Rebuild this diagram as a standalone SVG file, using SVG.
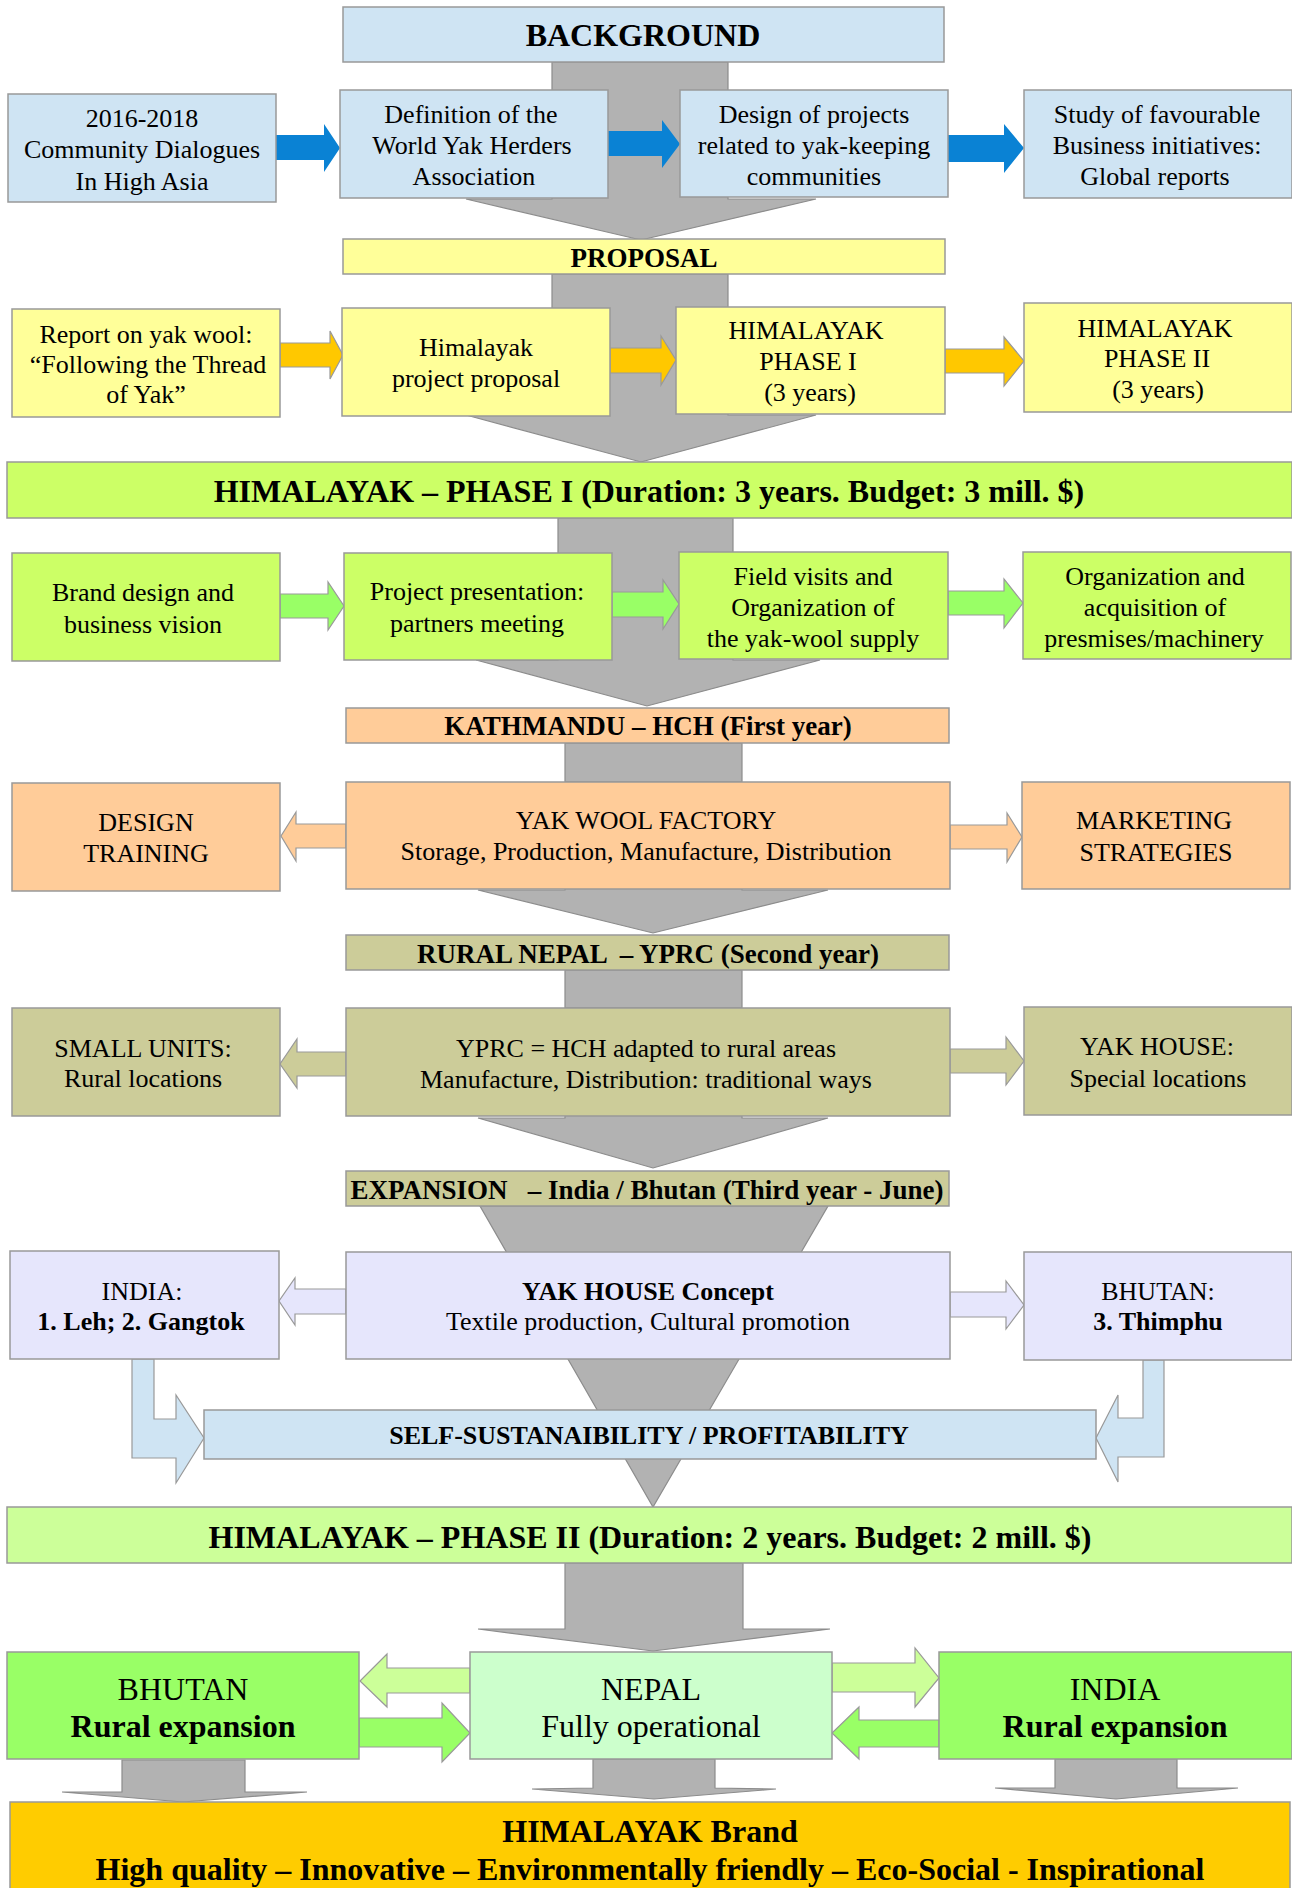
<svg xmlns="http://www.w3.org/2000/svg" width="1292" height="1888" viewBox="0 0 1292 1888">
<style>
text{font-family:"Liberation Serif","Times New Roman",serif;fill:#000;text-anchor:middle}
.t{font-size:26px}
.b{font-weight:bold}
.h{font-size:27px;font-weight:bold;white-space:pre}
.l{font-size:32px}
.box{stroke:#999;stroke-width:1.5}
.arr{stroke:#999;stroke-width:1.2}
.gray{fill:#b2b2b2;stroke:#8c8c8c;stroke-width:1.2}
.blue{fill:#cfe4f3}
.yel{fill:#ffff99}
.lime{fill:#ccff66}
.peach{fill:#ffcc99}
.khaki{fill:#cccc99}
.lav{fill:#e6e6fc}
.p2{fill:#ccff99}
.grn{fill:#99ff66}
.mint{fill:#ccffcc}
.gold{fill:#ffcc00}
</style>
<g id="connectors">
<polygon class="gray" points="552,62 728,62 728,199 816,199 641,240 466,199 552,199"/>
<polygon class="gray" points="552,274 728,274 728,415 816,415 641,462 466,415 552,415"/>
<polygon class="gray" points="558,518 733,518 733,660 820,660 647,706 476,660 558,660"/>
<rect class="gray" x="565" y="743" width="177" height="39"/>
<polygon class="gray" points="565,870 742,870 742,890 828,890 653,933 478,890 565,890"/>
<rect class="gray" x="565" y="970" width="177" height="38"/>
<polygon class="gray" points="565,1100 742,1100 742,1118 828,1118 653,1168 478,1118 565,1118"/>
<polygon class="gray" points="480,1206 828,1206 653,1507"/>
<polygon class="gray" points="565,1563 743,1563 743,1629 830,1629 653,1651 478,1629 565,1629"/>
<polygon class="gray" points="122,1760 245,1760 245,1792 307,1792 183,1802 62,1792 122,1792"/>
<polygon class="gray" points="593,1759 715,1759 715,1788 776,1789 654,1799 532,1789 593,1788"/>
<polygon class="gray" points="1055,1759 1177,1759 1177,1788 1238,1788 1116,1799 995,1788 1055,1788"/>
<polygon fill="#0a82d4" points="276,135 324,135 324,124 340,148 324,172 324,160 276,160"/>
<polygon fill="#0a82d4" points="608,131 662,131 662,120 680,144 662,168 662,156 608,156"/>
<polygon fill="#0a82d4" points="948,135 1004,135 1004,124 1024,148 1004,173 1004,162 948,162"/>
<polygon class="arr" fill="#ffc800" points="280,343 330,343 330,331 343,355 330,379 330,367 280,367"/>
<polygon class="arr" fill="#ffc800" points="610,348 661,348 661,336 676,360 661,385 661,373 610,373"/>
<polygon class="arr" fill="#ffc800" points="945,349 1004,349 1004,337 1024,361 1004,386 1004,373 945,373"/>
<polygon class="arr grn" points="280,594 328,594 328,582 344,606 328,630 328,618 280,618"/>
<polygon class="arr grn" points="612,592 663,592 663,580 679,604 663,629 663,617 612,617"/>
<polygon class="arr grn" points="948,591 1004,591 1004,579 1023,603 1004,628 1004,615 948,615"/>
<polygon class="arr peach" points="346,824 296,824 296,812 281,836 296,861 296,848 346,848"/>
<polygon class="arr peach" points="950,825 1007,825 1007,813 1022,837 1007,862 1007,849 950,849"/>
<polygon class="arr khaki" points="346,1052 297,1052 297,1039 280,1064 297,1088 297,1076 346,1076"/>
<polygon class="arr khaki" points="950,1049 1006,1049 1006,1037 1024,1061 1006,1085 1006,1073 950,1073"/>
<polygon class="arr lav" points="346,1289 295,1289 295,1278 279,1301 295,1325 295,1314 346,1314"/>
<polygon class="arr lav" points="950,1292 1006,1292 1006,1281 1024,1305 1006,1329 1006,1317 950,1317"/>
<polygon class="arr blue" points="132,1359 154,1359 154,1419 176,1419 176,1395 204,1438 176,1483 176,1458 132,1458"/>
<polygon class="arr blue" points="1164,1360 1143,1360 1143,1418 1118,1418 1118,1395 1096,1438 1118,1482 1118,1457 1164,1457"/>
<polygon class="arr p2" points="470,1668 387,1668 387,1654 360,1681 387,1707 387,1693 470,1693"/>
<polygon class="arr grn" points="359,1718 442,1718 442,1703 470,1733 442,1762 442,1747 359,1747"/>
<polygon class="arr p2" points="832,1663 915,1663 915,1648 939,1678 915,1707 915,1692 832,1692"/>
<polygon class="arr grn" points="939,1720 859,1720 859,1707 832,1733 859,1759 859,1747 939,1747"/>
</g>
<g id="background"><rect class="box blue" x="343" y="7" width="601" height="55"/><text class="b" style="font-size:32px" x="643" y="46">BACKGROUND</text></g>
<g id="dialogues"><rect class="box blue" x="8" y="94" width="268" height="108"/><text class="t" x="142"><tspan x="142" y="127">2016-2018</tspan><tspan x="142" y="158">Community Dialogues</tspan><tspan x="142" y="190">In High Asia</tspan></text></g>
<g id="definition"><rect class="box blue" x="340" y="90" width="268" height="108"/><text class="t"><tspan x="471" y="123">Definition of the</tspan><tspan x="472" y="154">World Yak Herders</tspan><tspan x="474" y="185">Association</tspan></text></g>
<g id="design-projects"><rect class="box blue" x="680" y="90" width="268" height="107"/><text class="t"><tspan x="814" y="123">Design of projects</tspan><tspan x="814" y="154">related to yak-keeping</tspan><tspan x="814" y="185">communities</tspan></text></g>
<g id="study"><rect class="box blue" x="1024" y="90" width="268" height="108"/><text class="t"><tspan x="1157" y="123">Study of favourable</tspan><tspan x="1157" y="154">Business initiatives:</tspan><tspan x="1155" y="185">Global reports</tspan></text></g>
<g id="proposal"><rect class="box yel" x="343" y="239" width="602" height="35"/><text class="h" x="644" y="267">PROPOSAL</text></g>
<g id="report"><rect class="box yel" x="12" y="309" width="268" height="108"/><text class="t"><tspan x="146" y="343">Report on yak wool:</tspan><tspan x="148" y="373">“Following the Thread</tspan><tspan x="146" y="403">of Yak”</tspan></text></g>
<g id="himalayak-proposal"><rect class="box yel" x="342" y="308" width="268" height="108"/><text class="t"><tspan x="476" y="356">Himalayak</tspan><tspan x="476" y="387">project proposal</tspan></text></g>
<g id="phase1-small"><rect class="box yel" x="676" y="307" width="269" height="107"/><text class="t"><tspan x="806" y="339">HIMALAYAK</tspan><tspan x="808" y="370">PHASE I</tspan><tspan x="810" y="401">(3 years)</tspan></text></g>
<g id="phase2-small"><rect class="box yel" x="1024" y="303" width="268" height="109"/><text class="t"><tspan x="1155" y="337">HIMALAYAK</tspan><tspan x="1157" y="367">PHASE II</tspan><tspan x="1158" y="398">(3 years)</tspan></text></g>
<g id="phase1"><rect class="box lime" x="7" y="462" width="1285" height="56"/><text class="l b" x="649" y="502">HIMALAYAK – PHASE I (Duration: 3 years. Budget: 3 mill. $)</text></g>
<g id="brand-design"><rect class="box lime" x="12" y="553" width="268" height="108"/><text class="t"><tspan x="143" y="601">Brand design and</tspan><tspan x="143" y="633">business vision</tspan></text></g>
<g id="presentation"><rect class="box lime" x="344" y="553" width="268" height="107"/><text class="t"><tspan x="477" y="600">Project presentation:</tspan><tspan x="477" y="632">partners meeting</tspan></text></g>
<g id="field-visits"><rect class="box lime" x="679" y="552" width="269" height="107"/><text class="t"><tspan x="813" y="585">Field visits and</tspan><tspan x="813" y="616">Organization of</tspan><tspan x="813" y="647">the yak-wool supply</tspan></text></g>
<g id="organization"><rect class="box lime" x="1023" y="552" width="268" height="107"/><text class="t"><tspan x="1155" y="585">Organization and</tspan><tspan x="1155" y="616">acquisition of</tspan><tspan x="1154" y="647">presmises/machinery</tspan></text></g>
<g id="kathmandu"><rect class="box peach" x="346" y="708" width="603" height="35"/><text class="h" x="648" y="735">KATHMANDU – HCH (First year)</text></g>
<g id="design-training"><rect class="box peach" x="12" y="783" width="268" height="108"/><text class="t"><tspan x="146" y="831">DESIGN</tspan><tspan x="146" y="862">TRAINING</tspan></text></g>
<g id="factory"><rect class="box peach" x="346" y="782" width="604" height="107"/><text class="t"><tspan x="646" y="829">YAK WOOL FACTORY</tspan><tspan x="646" y="860">Storage, Production, Manufacture, Distribution</tspan></text></g>
<g id="marketing"><rect class="box peach" x="1022" y="782" width="268" height="107"/><text class="t"><tspan x="1154" y="829">MARKETING</tspan><tspan x="1156" y="861">STRATEGIES</tspan></text></g>
<g id="rural-nepal"><rect class="box khaki" x="346" y="935" width="603" height="35"/><text class="h" x="648" y="963">RURAL NEPAL  – YPRC (Second year)</text></g>
<g id="small-units"><rect class="box khaki" x="12" y="1008" width="268" height="108"/><text class="t"><tspan x="143" y="1057">SMALL UNITS:</tspan><tspan x="143" y="1087">Rural locations</tspan></text></g>
<g id="yprc"><rect class="box khaki" x="346" y="1008" width="604" height="108"/><text class="t"><tspan x="646" y="1057">YPRC = HCH adapted to rural areas</tspan><tspan x="646" y="1088">Manufacture, Distribution: traditional ways</tspan></text></g>
<g id="yak-house"><rect class="box khaki" x="1024" y="1007" width="268" height="108"/><text class="t"><tspan x="1157" y="1055">YAK HOUSE:</tspan><tspan x="1158" y="1087">Special locations</tspan></text></g>
<g id="expansion"><rect class="box khaki" x="346" y="1171" width="603" height="35"/><text class="h" x="647" y="1199">EXPANSION   – India / Bhutan (Third year - June)</text></g>
<g id="india-small"><rect class="box lav" x="10" y="1251" width="269" height="108"/><text class="t"><tspan x="142" y="1300">INDIA:</tspan><tspan x="141" y="1330" class="b">1. Leh; 2. Gangtok</tspan></text></g>
<g id="yak-house-concept"><rect class="box lav" x="346" y="1252" width="604" height="107"/><text class="t"><tspan x="648" y="1300" class="b">YAK HOUSE Concept</tspan><tspan x="648" y="1330">Textile production, Cultural promotion</tspan></text></g>
<g id="bhutan-small"><rect class="box lav" x="1024" y="1252" width="268" height="108"/><text class="t"><tspan x="1158" y="1300">BHUTAN:</tspan><tspan x="1158" y="1330" class="b">3. Thimphu</tspan></text></g>
<g id="self-sustainability"><rect class="box blue" x="204" y="1410" width="892" height="49"/><text class="t b" x="649" y="1444">SELF-SUSTANAIBILITY / PROFITABILITY</text></g>
<g id="phase2"><rect class="box p2" x="7" y="1507" width="1285" height="56"/><text class="l b" x="650" y="1548">HIMALAYAK – PHASE II (Duration: 2 years. Budget: 2 mill. $)</text></g>
<g id="bhutan"><rect class="box grn" x="7" y="1652" width="352" height="107"/><text class="l"><tspan x="183" y="1700">BHUTAN</tspan><tspan x="183" y="1737" class="b">Rural expansion</tspan></text></g>
<g id="nepal"><rect class="box mint" x="470" y="1652" width="362" height="107"/><text class="l"><tspan x="651" y="1700">NEPAL</tspan><tspan x="651" y="1737">Fully operational</tspan></text></g>
<g id="india"><rect class="box grn" x="939" y="1652" width="353" height="107"/><text class="l"><tspan x="1115" y="1700">INDIA</tspan><tspan x="1115" y="1737" class="b">Rural expansion</tspan></text></g>
<g id="brand"><rect class="box gold" x="10" y="1802" width="1280" height="100"/><text class="l b"><tspan x="650" y="1842">HIMALAYAK Brand</tspan><tspan x="650" y="1880">High quality – Innovative – Environmentally friendly – Eco-Social - Inspirational</tspan></text></g>
</svg>
